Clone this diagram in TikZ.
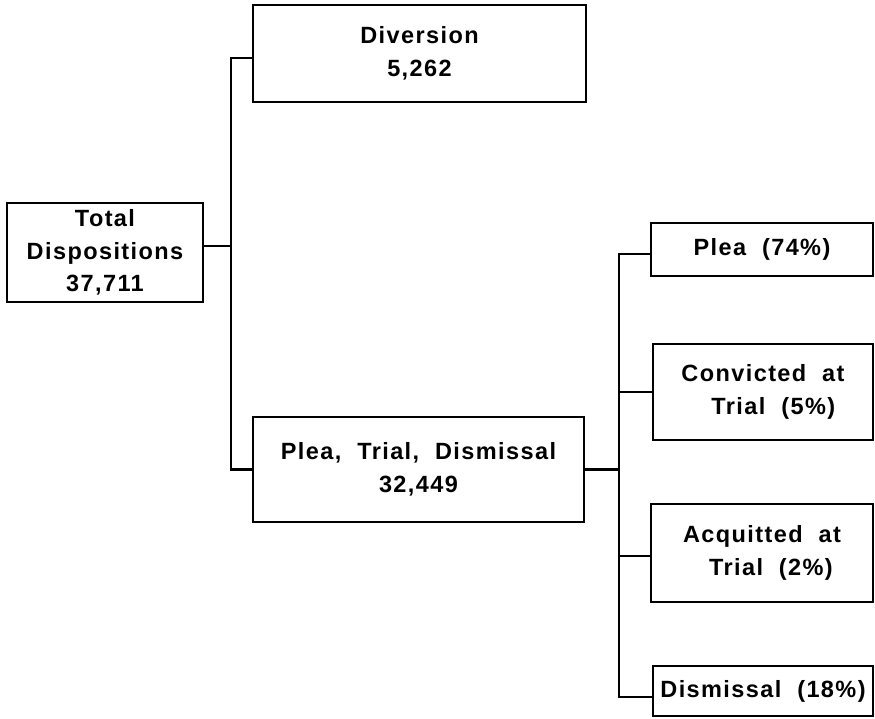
\documentclass[tikz,border=0pt]{standalone}
\usepackage{fontspec}
\newfontfamily\labelfont{Liberation Sans Bold}[LetterSpace=6, WordSpace=2]
\begin{document}
\begin{tikzpicture}[x=1pt,y=-1pt,
  box/.style={draw=black, line width=2.5pt, inner sep=0pt, align=center,
    font=\labelfont\fontsize{23.5}{32.5}\selectfont},
  link/.style={draw=black, line width=2.5pt}]
\useasboundingbox (0,0) rectangle (875,718);
\node[box, minimum width=196pt, minimum height=99pt] (total) at (105,252.5) {Total\\Dispositions\\37,711};
\node[box, minimum width=333pt, minimum height=97pt] (div) at (419.5,53.5) {Diversion\\5,262};
\node[box, minimum width=331pt, minimum height=105pt] (ptd) at (418.5,469.5) {Plea, Trial, Dismissal\\32,449};
\node[box, minimum width=222pt, minimum height=53pt] (plea) at (762,249.5) {Plea (74\%)};
\node[box, align=left, minimum width=220pt, minimum height=96pt] (conv) at (763,392) {Convicted at\\\hspace*{30pt}Trial (5\%)};
\node[box, align=left, minimum width=222pt, minimum height=98pt] (acq) at (762,553) {Acquitted at\\\hspace*{26pt}Trial (2\%)};
\node[box, minimum width=220pt, minimum height=50pt] (dism) at (763,691) {Dismissal (18\%)};
\coordinate (j1) at (231,300);
\coordinate (j2) at (619,400);
\draw[link] ([yshift=-4.5pt]div.west) -| (j1) |- (ptd.west);
\draw[link] ([yshift=6.5pt]total.east) -- ([yshift=6.5pt]total.east -| j1);
\draw[link] ([yshift=-4.5pt]plea.west) -| (j2) |- ([yshift=-6pt]dism.west);
\draw[link] (ptd.east) -- (ptd.east -| j2);
\draw[link] (conv.west) -- (conv.west -| j2);
\draw[link] ([yshift=-3pt]acq.west) -- ([yshift=-3pt]acq.west -| j2);
\end{tikzpicture}
\end{document}
